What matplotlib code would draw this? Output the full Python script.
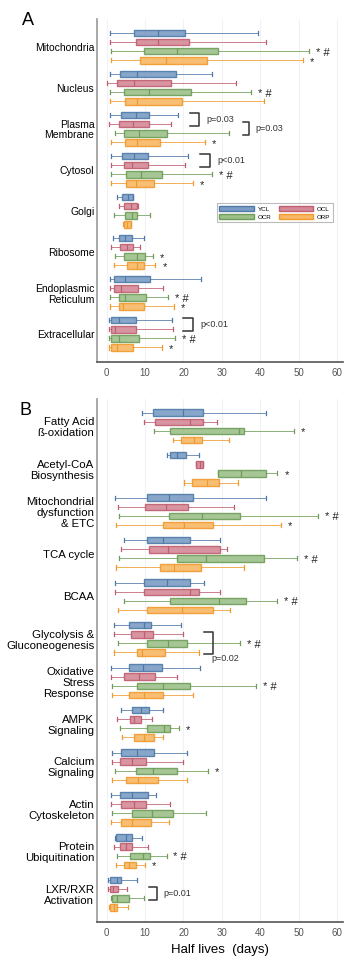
import numpy as np
import matplotlib
matplotlib.use("Agg")
import matplotlib.pyplot as plt
from matplotlib.patches import Patch

plt.rcParams['font.family'] = ['Liberation Sans', 'DejaVu Sans']

# --- cohorts and colours ---
cohorts = ['YCL', 'OCL', 'OCR', 'ORP']
face_colors = ['#7b9cc4', '#d48a97', '#9cc08a', '#f8b865']
edge_colors = ['#4f79a8', '#c05d70', '#6e9e58', '#f09a2e']

# --- panel A: subcellular location, (whislo, q1, median, q3, whishi) in days ---
a_labels = ['Mitochondria', 'Nucleus', 'Plasma\nMembrane', 'Cytosol', 'Golgi',
            'Ribosome', 'Endoplasmic\nReticulum', 'Extracellular']
a_ycl = [(0.9, 7.0, 13.3, 20.5, 39.4), (0.9, 3.5, 7.9, 18.1, 27.5),
         (0.9, 3.7, 7.7, 10.9, 18.5), (1.2, 4.0, 7.0, 10.7, 21.1),
         (2.7, 4.1, 5.5, 6.8, 6.9), (1.6, 3.1, 4.8, 6.6, 9.6),
         (0.9, 1.8, 4.8, 11.4, 24.7), (0.5, 1.2, 3.1, 7.7, 17.0)]
a_ocl = [(0.9, 7.6, 13.4, 21.4, 41.6), (0.2, 2.8, 7.0, 16.8, 33.7),
         (0.7, 3.3, 6.8, 10.9, 16.8), (1.2, 4.4, 6.7, 10.7, 20.3),
         (3.3, 4.6, 6.4, 8.0, 8.1), (1.2, 3.5, 5.3, 6.8, 8.7),
         (0.9, 2.0, 3.8, 8.1, 14.7), (0.6, 1.2, 2.2, 7.6, 17.3)]
a_ocr = [(1.2, 9.6, 18.3, 28.9, 52.7), (0.9, 4.6, 10.9, 22.0, 37.6),
         (2.2, 4.6, 8.3, 15.7, 31.8), (1.2, 5.1, 8.9, 14.4, 27.5),
         (2.0, 4.8, 6.7, 8.0, 11.4), (2.2, 4.6, 7.9, 10.1, 12.1),
         (0.9, 3.1, 4.8, 10.3, 16.1), (0.7, 1.2, 3.3, 8.3, 17.9)]
a_orp = [(1.2, 8.7, 15.5, 26.2, 51.2), (0.9, 4.8, 8.0, 19.5, 41.1),
         (1.2, 4.8, 7.9, 13.8, 25.7), (1.2, 5.0, 7.7, 12.2, 22.4),
         (4.2, 4.6, 5.4, 6.3, 6.4), (2.0, 5.3, 7.9, 9.8, 12.7),
         (0.9, 3.3, 4.2, 9.8, 17.6), (0.5, 1.2, 2.7, 6.8, 14.4)]
a_marks = [['', '', '* #', '*'], ['', '', '* #', ''], ['', '', '', '*'],
           ['', '', '* #', '*'], ['', '', '', ''], ['', '', '*', '*'],
           ['', '', '* #', '*'], ['', '', '* #', '*']]
# (group, from box, to box, bracket start, bracket end, text)
a_brackets = [(2, 0, 1, 21.8, 24.1, 'p=0.03'), (2, 1, 2, 35.4, 37.0, 'p=0.03'),
              (3, 0, 1, 24.4, 27.0, 'p<0.01'), (7, 0, 1, 20.0, 22.6, 'p<0.01')]

# --- panel B: pathways ---
b_labels = ['Fatty Acid\n\u00df-oxidation', 'Acetyl-CoA\nBiosynthesis',
            'Mitochondrial\ndysfunction\n& ETC', 'TCA cycle', 'BCAA',
            'Glycolysis &\nGluconeogenesis', 'Oxidative\nStress\nResponse',
            'AMPK\nSignaling', 'Calcium\nSignaling', 'Actin\nCytoskeleton',
            'Protein\nUbiquitination', 'LXR/RXR\nActivation']
b_ycl = [(9.2, 12.1, 19.8, 25.2, 41.4), (15.7, 16.6, 18.3, 20.7, 24.0),
         (2.2, 10.4, 16.3, 22.6, 41.5), (4.5, 10.4, 14.7, 21.6, 29.6),
         (2.1, 9.8, 15.7, 21.8, 25.3), (1.9, 5.7, 9.6, 11.5, 19.4),
         (1.2, 5.7, 9.5, 14.3, 24.4), (3.8, 6.7, 8.9, 10.9, 14.7),
         (1.3, 3.7, 7.8, 12.2, 20.9), (1.0, 3.5, 6.5, 10.7, 12.8),
         (2.1, 2.5, 5.0, 6.5, 9.2), (0.3, 0.9, 2.8, 3.8, 7.9)]
b_ocl = [(9.8, 12.7, 21.8, 25.2, 28.7), (23.3, 23.3, 24.2, 25.1, 25.1),
         (3.0, 10.0, 15.5, 21.3, 33.1), (3.8, 11.1, 15.9, 29.4, 31.4),
         (2.1, 9.8, 21.6, 24.0, 29.6), (1.9, 6.3, 9.6, 12.1, 20.0),
         (1.2, 4.5, 8.5, 12.6, 18.3), (2.8, 6.0, 7.2, 8.9, 11.8),
         (1.3, 3.4, 6.7, 10.2, 20.0), (1.0, 3.7, 7.0, 10.2, 16.6),
         (1.8, 3.4, 5.0, 6.5, 10.7), (0.3, 0.8, 1.7, 3.0, 5.4)]
b_ocr = [(12.4, 16.6, 34.4, 35.8, 48.8), (29.0, 29.0, 34.9, 41.5, 44.5),
         (3.1, 16.3, 24.8, 34.7, 55.0), (3.1, 18.3, 25.9, 41.0, 49.5),
         (4.5, 16.6, 29.2, 36.4, 44.5), (3.0, 10.5, 16.1, 21.0, 34.8),
         (1.3, 7.8, 14.6, 21.7, 38.8), (3.4, 10.5, 15.0, 16.5, 18.8),
         (2.1, 7.6, 12.0, 18.3, 26.4), (1.3, 6.5, 11.7, 17.2, 25.9),
         (2.6, 6.0, 9.5, 11.3, 15.6), (1.0, 1.5, 2.8, 5.7, 9.6)]
b_orp = [(17.4, 19.4, 22.7, 24.9, 31.9), (20.1, 22.2, 26.1, 29.3, 34.2),
         (2.4, 14.7, 20.1, 27.8, 45.3), (2.4, 13.9, 17.6, 24.6, 35.8),
         (3.0, 10.5, 19.6, 27.7, 32.0), (1.8, 7.9, 9.3, 15.3, 24.0),
         (1.3, 5.7, 9.6, 14.6, 22.4), (4.1, 7.2, 9.8, 12.2, 14.6),
         (1.3, 5.0, 8.2, 13.4, 20.9), (1.0, 3.8, 6.5, 11.5, 16.3),
         (2.4, 4.5, 5.7, 7.6, 10.0), (0.6, 0.9, 1.9, 2.8, 5.6)]
b_marks = [['', '', '*', ''], ['', '', '*', ''], ['', '', '* #', '*'],
           ['', '', '* #', ''], ['', '', '* #', ''], ['', '', '* #', ''],
           ['', '', '* #', ''], ['', '', '*', ''], ['', '', '*', ''],
           ['', '', '', ''], ['', '', '* #', '*'], ['', '', '', '']]
b_brackets = [(5, 1, 3, 25.3, 27.7, 'p=0.02'), (11, 1, 2, 11.0, 13.0, 'p=0.01')]

xticks = [0, 10, 20, 30, 40, 50, 60]


def draw_panel(ax, labels, series, marks, brackets, gstep, label_size, below_text=()):
    n = len(labels)
    for j, data in enumerate(series):
        pos = [i * gstep + j for i in range(n)]
        stats = [dict(whislo=d[0], q1=d[1], med=d[2], q3=d[3], whishi=d[4], fliers=[])
                 for d in data]
        ax.bxp(stats, positions=pos, widths=0.72, orientation='horizontal',
               patch_artist=True, showfliers=False, manage_ticks=False,
               boxprops=dict(facecolor=face_colors[j], edgecolor=edge_colors[j],
                             linewidth=1.0, alpha=0.9),
               medianprops=dict(color=edge_colors[j], linewidth=0.9),
               whiskerprops=dict(color=edge_colors[j], linewidth=0.7, alpha=0.8),
               capprops=dict(color=edge_colors[j], linewidth=0.9),
               capwidths=0.45)
        for i, d in enumerate(data):
            if marks[i][j]:
                ax.text(d[4] + 1.8, i * gstep + j + 0.15, marks[i][j],
                        fontsize=8, va='center', ha='left', color='#222222')
    for g, j0, j1, x0, x1, txt in brackets:
        y0 = g * gstep + j0 - 0.2
        y1 = g * gstep + j1 + 0.2
        ax.plot([x0, x1, x1, x0], [y0, y0, y1, y1], color='#333333', lw=1.1)
        if txt in below_text:
            ax.text(x1 - 0.3, y1 + 0.45, txt, fontsize=6.5, va='center',
                    ha='left', color='#333333')
        else:
            ax.text(x1 + 1.8, (y0 + y1) / 2, txt, fontsize=6.5, va='center',
                    ha='left', color='#333333')

    ax.set_yticks([i * gstep + 1.5 for i in range(n)])
    ax.set_yticklabels(labels, fontsize=label_size, linespacing=1.1)
    ax.set_xticks(xticks)
    ax.set_xlim(-2.5, 61.6)
    ax.set_ylim((n - 1) * gstep + 3 + 1.6, -1.5)
    ax.tick_params(axis='y', length=0, pad=2)
    ax.tick_params(axis='x', length=0, pad=4, labelsize=7, labelcolor='#555555')
    for s in ['top', 'right']:
        ax.spines[s].set_visible(False)
    ax.spines['left'].set_color('#999999')
    ax.spines['bottom'].set_color('#555555')
    ax.spines['left'].set_linewidth(1.2)
    ax.spines['bottom'].set_linewidth(1.2)
    ax.grid(axis='x', color='#f0f2f5', lw=0.8)
    ax.set_axisbelow(True)


fig = plt.figure(figsize=(3.48, 9.63), dpi=100)
ax_a = fig.add_axes([0.279, 0.624, 0.707, 0.356])
ax_b = fig.add_axes([0.279, 0.0426, 0.707, 0.543])

draw_panel(ax_a, a_labels, [a_ycl, a_ocl, a_ocr, a_orp], a_marks, a_brackets, 4.5, 7.5)
draw_panel(ax_b, b_labels, [b_ycl, b_ocl, b_ocr, b_orp], b_marks, b_brackets, 4.67, 8.2,
           below_text=('p=0.02',))

handles = [Patch(facecolor=face_colors[k], edgecolor=edge_colors[k], label=cohorts[k])
           for k in range(4)]
# column order: YCL, OCR | OCL, ORP
leg = ax_a.legend([handles[0], handles[2], handles[1], handles[3]],
                  [cohorts[0], cohorts[2], cohorts[1], cohorts[3]],
                  ncol=2, loc='upper left', bbox_to_anchor=(0.487, 0.463),
                  borderaxespad=0, fontsize=4.5, handlelength=5.5, handleheight=1.0,
                  columnspacing=1.2, handletextpad=0.6, labelspacing=0.3,
                  frameon=True, fancybox=False, edgecolor='#aaaaaa',
                  borderpad=0.4)
leg.get_frame().set_linewidth(0.8)

ax_b.set_xlabel('Half lives  (days)', fontsize=9.5, labelpad=5)

fig.text(0.08, 0.979, 'A', fontsize=13, va='center', ha='center')
fig.text(0.072, 0.574, 'B', fontsize=13, va='center', ha='center')

fig.savefig('out.png', dpi=100)
